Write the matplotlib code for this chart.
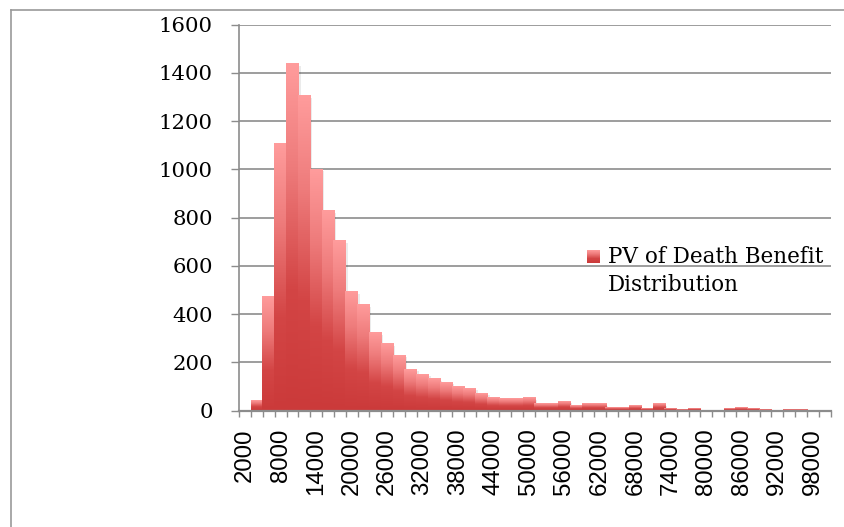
import matplotlib
matplotlib.use("Agg")
import numpy as np
import matplotlib.pyplot as plt
import matplotlib.patheffects as pe
from matplotlib.colors import LinearSegmentedColormap
from matplotlib.patches import Patch
from matplotlib.legend_handler import HandlerBase
from matplotlib.image import BboxImage
from matplotlib.transforms import Bbox, TransformedBbox
from matplotlib.lines import Line2D

# Histogram bins (upper edge of each bin) and counts per bin
bin_edges = list(range(2000, 100001, 2000))
counts = [0, 40, 469, 1104, 1436, 1303, 999, 826, 701, 490, 436, 320, 274, 228,
          170, 149, 129, 116, 99, 91, 70, 50, 46, 46, 50, 29, 25, 37, 17, 25,
          25, 12, 12, 17, 8, 25, 8, 4, 8, 0, 0, 8, 12, 8, 4, 0, 4, 4, 0, 0]
series_name = "PV of Death Benefit\nDistribution"
y_ticks = [0, 200, 400, 600, 800, 1000, 1200, 1400, 1600]
label_step = 3

grad_cmap = LinearSegmentedColormap.from_list(
    "bar_grad",
    [(0.0, "#CB3A3A"), (0.35, "#D34545"), (0.7, "#EE7B7B"), (1.0, "#FF9C9C")])
grad = np.linspace(0, 1, 256).reshape(-1, 1)

grid_col = "#8c8c8c"
serif = ["DejaVu Serif"]
sans = ["Liberation Sans", "DejaVu Sans"]

fig = plt.figure(figsize=(8.44, 5.27), dpi=100)
ax = fig.add_axes([239.3 / 844, 1 - 410.5 / 527,
                   (830.5 - 239.3) / 844, (410.5 - 24.7) / 527])

x = np.arange(len(counts))
bars = ax.bar(x, counts, width=1.0, color="#D85555", linewidth=0, zorder=2)
overlap = 0.04
for rect in bars:
    rect.set_path_effects([pe.SimplePatchShadow(offset=(1.5, -1),
                                                shadow_rgbFace="k", alpha=0.08),
                           pe.Normal()])
    h = rect.get_height()
    if h > 0:
        x0 = rect.get_x()
        ax.imshow(grad, extent=(x0 - overlap, x0 + rect.get_width() + overlap, 0, h),
                  origin="lower", cmap=grad_cmap, aspect="auto",
                  interpolation="bilinear", zorder=2.1)

ax.set_xlim(-0.5, len(counts) - 0.5)
ax.set_ylim(y_ticks[0], y_ticks[-1])

# y axis
ax.set_yticks(y_ticks)
ax.set_yticklabels([str(v) for v in y_ticks], family=serif, fontsize=15.3)
ax.yaxis.grid(True, color=grid_col, linewidth=1.2)
ax.set_axisbelow(True)
ax.tick_params(axis="y", length=5.5, width=1.0, color=grid_col, pad=13.5)

# x axis: ticks on bin boundaries, labels on every third bin
ax.set_xticks(np.arange(-0.5, len(counts), 1.0), minor=True)
ax.set_xticks(x[::label_step])
ax.set_xticklabels([str(b) for b in bin_edges[::label_step]], rotation=90,
                   family=sans, fontsize=17.3, va="top", ha="center")
ax.tick_params(axis="x", which="major", length=0, pad=13)
ax.tick_params(axis="x", which="minor", length=4.5, width=1.0, color=grid_col)

for side in ("top", "right"):
    ax.spines[side].set_visible(False)
ax.spines["left"].set_color(grid_col)
ax.spines["left"].set_linewidth(1.2)
ax.spines["bottom"].set_color(grid_col)
ax.spines["bottom"].set_linewidth(1.6)
ax.spines["bottom"].set_zorder(3)


class GradientSquare(HandlerBase):
    def create_artists(self, legend, orig_handle, xdescent, ydescent,
                       width, height, fontsize, trans):
        side = min(width, height)
        y0 = -ydescent + (height - side) / 2 + 0.7 * fontsize
        bb = TransformedBbox(Bbox.from_bounds(-xdescent, y0, side, side), trans)
        img = BboxImage(bb, cmap=grad_cmap, interpolation="bilinear")
        img.set_data(grad[::-1])
        return [img]


proxy = Patch(label=series_name)
leg = ax.legend(handles=[proxy], handler_map={Patch: GradientSquare()},
                loc="center left", bbox_to_anchor=(587 / 844, 1 - 271 / 527),
                bbox_transform=fig.transFigure, frameon=False,
                prop={"family": serif, "size": 15.5},
                handlelength=0.6, handleheight=0.6, handletextpad=0.37,
                borderpad=0, borderaxespad=0)
for t in leg.get_texts():
    t.set_linespacing(1.4)

# outer chart frame
fig.add_artist(Line2D([11 / 844, 1.0], [1 - 9.5 / 527, 1 - 9.5 / 527],
                      transform=fig.transFigure, color="#9a9a9a", linewidth=1.2))
fig.add_artist(Line2D([11 / 844, 11 / 844], [0.0, 1 - 9.5 / 527],
                      transform=fig.transFigure, color="#9a9a9a", linewidth=1.2))

fig.savefig("out.png", dpi=100)
